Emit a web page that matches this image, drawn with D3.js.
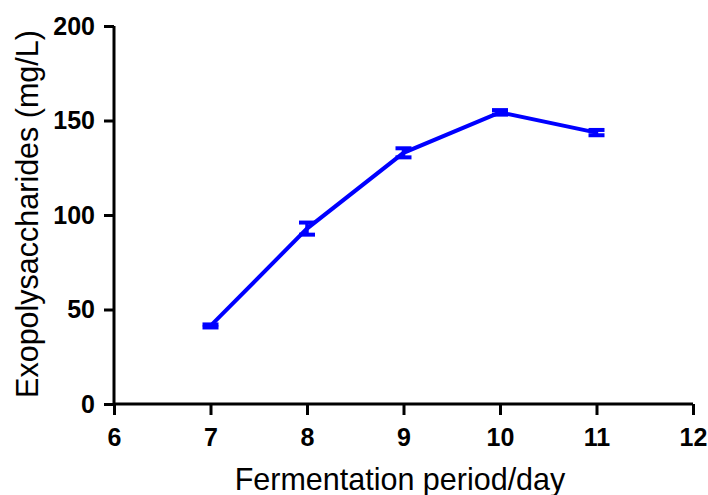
<!DOCTYPE html>
<html><head><meta charset="utf-8">
<script src="https://cdn.jsdelivr.net/npm/d3@7"></script>
<style>body{margin:0;background:#fff}svg{display:block}</style>
</head><body>
<script>
const days = [7, 8, 9, 10, 11];
const eps = [41.3, 92.8, 132.9, 154.3, 143.6];
const errs = [0.8, 3.2, 2.4, 1.2, 1.4];
const xTicks = [6, 7, 8, 9, 10, 11, 12];
const yTicks = [0, 50, 100, 150, 200];
const xTitle = "Fermentation period/day";
const yTitle = "Exopolysaccharides (mg/L)";

const W = 708, H = 495;
const svg = d3.select("body").append("svg").attr("width", W).attr("height", H);
const x = d3.scaleLinear().domain([6, 12]).range([114, 693]);
const y = d3.scaleLinear().domain([0, 200]).range([404, 26]);

const font = "'Liberation Sans', Arial, sans-serif";

const xa = svg.append("g").attr("transform", "translate(0,404)")
  .call(d3.axisBottom(x).tickValues(xTicks).tickSize(11).tickPadding(13).tickFormat(d3.format("d")));
const ya = svg.append("g").attr("transform", "translate(114,0)")
  .call(d3.axisLeft(y).tickValues(yTicks).tickSize(10).tickPadding(9).tickFormat(d3.format("d")));
[xa, ya].forEach(a => {
  a.select(".domain").attr("stroke", "#000").attr("stroke-width", 3);
  a.selectAll(".tick line").attr("stroke", "#000").attr("stroke-width", 3);
  a.selectAll(".tick text").attr("fill", "#000").style("font-family", font)
    .style("font-size", "25px").style("font-weight", "bold");
});
xa.select(".domain").attr("d", `M${x(6)},0H${x(12)}`);
ya.select(".domain").attr("d", `M0,${y(0)}V${y(200)}`);

// line
const line = d3.line().x((d, i) => x(days[i])).y(d => y(d));
svg.append("path").datum(eps).attr("d", line).attr("fill", "none")
  .attr("stroke", "#0000ff").attr("stroke-width", 4);

// error bars
const g = svg.append("g");
days.forEach((d, i) => {
  const cx = x(d), top = y(eps[i] + errs[i]), bot = y(eps[i] - errs[i]);
  g.append("line").attr("x1", cx).attr("x2", cx).attr("y1", top).attr("y2", bot)
    .attr("stroke", "#0000ff").attr("stroke-width", 3.5);
  [top, bot].forEach(yy => g.append("line").attr("x1", cx - 8).attr("x2", cx + 8)
    .attr("y1", yy).attr("y2", yy).attr("stroke", "#0000ff").attr("stroke-width", 4));
});

svg.append("text").attr("x", 400).attr("y", 490).attr("text-anchor", "middle")
  .style("font-family", font).style("font-size", "30.5px").text(xTitle);
svg.append("text").attr("transform", `translate(38,214) rotate(-90)`)
  .attr("text-anchor", "middle").style("font-family", font).style("font-size", "30.5px").text(yTitle);
</script>
</body></html>
